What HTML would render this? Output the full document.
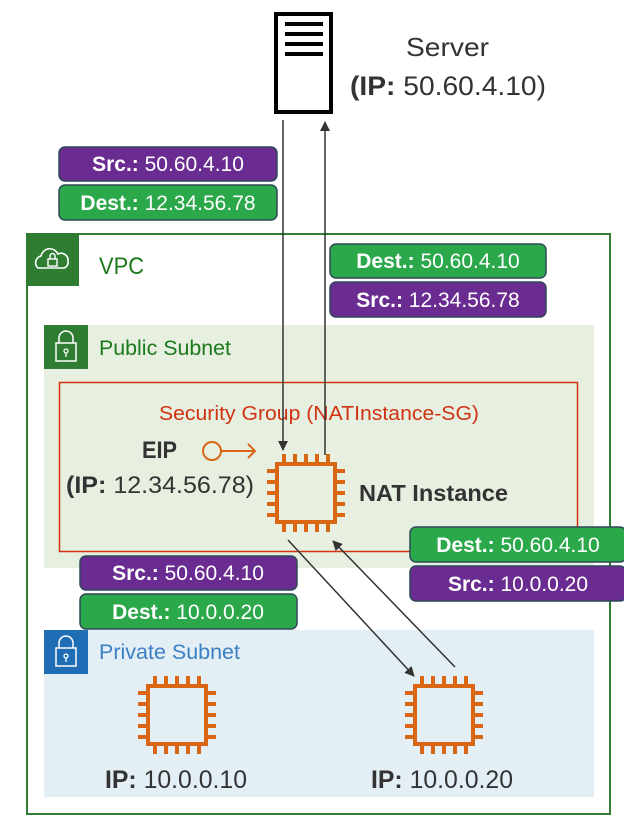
<!DOCTYPE html>
<html><head><meta charset="utf-8"><style>
html,body{margin:0;padding:0;background:#fff}
svg{display:block}
text{font-family:"Liberation Sans",sans-serif}
</style></head><body>
<svg width="624" height="820" viewBox="0 0 624 820" xmlns="http://www.w3.org/2000/svg">
<defs>
<marker id="ah" markerWidth="10" markerHeight="10" refX="9" refY="5" orient="auto" markerUnits="userSpaceOnUse">
<path d="M0,0 L10,5 L0,10 z" fill="#333"/></marker>
<symbol id="chip" viewBox="0 0 80 80" width="80" height="80">
<g stroke="#d86613" stroke-width="4" fill="none">
<rect x="11" y="11" width="58" height="58"/>
<path d="M18,1V11M29,1V11M40,1V11M51,1V11M62,1V11M18,69V79M29,69V79M40,69V79M51,69V79M62,69V79M1,18H11M1,29H11M1,40H11M1,51H11M1,62H11M69,18H79M69,29H79M69,40H79M69,51H79M69,62H79"/>
</g></symbol>
</defs>

<!-- server -->
<rect x="276" y="14" width="55" height="98" fill="#fff" stroke="#000" stroke-width="4"/>
<path d="M285,24H323M285,34H323M285,44H323M285,54H323" stroke="#000" stroke-width="4"/>
<text x="406" y="56" font-size="26" fill="#333" textLength="83" lengthAdjust="spacingAndGlyphs">Server</text>
<text x="350" y="95" font-size="27" fill="#333" textLength="196" lengthAdjust="spacingAndGlyphs"><tspan font-weight="bold">(IP:</tspan> 50.60.4.10)</text>

<!-- VPC -->
<rect x="27" y="234" width="583" height="580" fill="#fff" stroke="#2e7d32" stroke-width="2"/>
<rect x="26" y="233" width="53" height="53" fill="#2e7d32"/>
<path d="M38,268 a7,7 0 0 1 3,-12 a9,9 0 0 1 17,-2 a7,7 0 0 1 10,7 a6,6 0 0 1 -4,7 z" fill="none" stroke="#fff" stroke-width="1.6"/>
<rect x="48" y="259" width="9" height="7" fill="none" stroke="#fff" stroke-width="1.4"/>
<path d="M50,259v-3a2.5,2.5 0 0 1 5,0v3" fill="none" stroke="#fff" stroke-width="1.4"/>
<text x="99" y="274" font-size="24" fill="#1b7a1b" textLength="45" lengthAdjust="spacingAndGlyphs">VPC</text>

<!-- public subnet -->
<rect x="44" y="325" width="550" height="243" fill="#e7efe0"/>
<rect x="44" y="325" width="44" height="44" fill="#2e7d32"/>
<rect x="56" y="343" width="20" height="18" fill="none" stroke="#fff" stroke-width="1.5"/>
<path d="M59,343v-5a7,7 0 0 1 14,0v5" fill="none" stroke="#fff" stroke-width="1.5"/>
<circle cx="66" cy="351" r="2" fill="none" stroke="#fff" stroke-width="1.3"/><path d="M66,353v4" stroke="#fff" stroke-width="1.3"/>
<text x="99" y="355" font-size="21" fill="#1b7a1b" textLength="132" lengthAdjust="spacingAndGlyphs">Public Subnet</text>

<!-- security group -->
<rect x="59.5" y="382.5" width="518" height="169" fill="none" stroke="#d13212" stroke-width="1.5"/>
<text x="159" y="420" font-size="20" fill="#d13212" textLength="320" lengthAdjust="spacingAndGlyphs">Security Group (NATInstance-SG)</text>

<text x="142" y="458" font-size="24" fill="#333" font-weight="bold" textLength="35" lengthAdjust="spacingAndGlyphs">EIP</text>
<text x="66" y="493" font-size="24" fill="#333" textLength="188" lengthAdjust="spacingAndGlyphs"><tspan font-weight="bold">(IP:</tspan> 12.34.56.78)</text>
<circle cx="212" cy="451" r="9" fill="none" stroke="#d86613" stroke-width="2"/>
<path d="M221,451H255M248,444L255,451L248,458" fill="none" stroke="#d86613" stroke-width="2"/>
<use href="#chip" x="266" y="453"/>
<text x="359" y="501" font-size="23" fill="#333" font-weight="bold" textLength="149" lengthAdjust="spacingAndGlyphs">NAT Instance</text>

<!-- private subnet -->
<rect x="44" y="630" width="550" height="167" fill="#e3eef5"/>
<rect x="44" y="630" width="44" height="44" fill="#1f6db5"/>
<rect x="56" y="648" width="20" height="18" fill="none" stroke="#fff" stroke-width="1.5"/>
<path d="M59,648v-5a7,7 0 0 1 14,0v5" fill="none" stroke="#fff" stroke-width="1.5"/>
<circle cx="66" cy="656" r="2" fill="none" stroke="#fff" stroke-width="1.3"/><path d="M66,658v4" stroke="#fff" stroke-width="1.3"/>
<text x="99" y="659" font-size="21" fill="#3b80c4" textLength="141" lengthAdjust="spacingAndGlyphs">Private Subnet</text>
<use href="#chip" x="137" y="675"/>
<use href="#chip" x="404" y="675"/>
<text x="105" y="788" font-size="25" fill="#333" textLength="142" lengthAdjust="spacingAndGlyphs"><tspan font-weight="bold">IP:</tspan> 10.0.0.10</text>
<text x="371" y="788" font-size="25" fill="#333" textLength="142" lengthAdjust="spacingAndGlyphs"><tspan font-weight="bold">IP:</tspan> 10.0.0.20</text>

<!-- arrows -->
<line x1="283" y1="120" x2="283" y2="450" stroke="#333" stroke-width="1.5" marker-end="url(#ah)"/>
<line x1="325" y1="455" x2="325" y2="122" stroke="#333" stroke-width="1.5" marker-end="url(#ah)"/>
<line x1="288" y1="540" x2="414" y2="676" stroke="#333" stroke-width="1.5" marker-end="url(#ah)"/>
<line x1="455" y1="667" x2="333" y2="541" stroke="#333" stroke-width="1.5" marker-end="url(#ah)"/>

<!-- tags -->
<g font-size="21" fill="#fff" text-anchor="middle" stroke-width="1.5">
<rect x="59" y="147" width="218" height="34" rx="6" fill="#6a2c91" stroke="#2f4858"/>
<text x="168" y="171"><tspan font-weight="bold">Src.:</tspan> 50.60.4.10</text>
<rect x="59" y="185" width="218" height="35" rx="6" fill="#2ba84a" stroke="#2f4858"/>
<text x="168" y="210"><tspan font-weight="bold">Dest.:</tspan> 12.34.56.78</text>

<rect x="330" y="244" width="216" height="34" rx="6" fill="#2ba84a" stroke="#2f4858"/>
<text x="438" y="268"><tspan font-weight="bold">Dest.:</tspan> 50.60.4.10</text>
<rect x="330" y="282" width="216" height="35" rx="6" fill="#6a2c91" stroke="#2f4858"/>
<text x="438" y="307"><tspan font-weight="bold">Src.:</tspan> 12.34.56.78</text>

<rect x="410" y="527" width="216" height="35" rx="6" fill="#2ba84a" stroke="#2f4858"/>
<text x="518" y="552"><tspan font-weight="bold">Dest.:</tspan> 50.60.4.10</text>
<rect x="410" y="566" width="216" height="35" rx="6" fill="#6a2c91" stroke="#2f4858"/>
<text x="518" y="591"><tspan font-weight="bold">Src.:</tspan> 10.0.0.20</text>

<rect x="80" y="556" width="217" height="34" rx="6" fill="#6a2c91" stroke="#2f4858"/>
<text x="188" y="580"><tspan font-weight="bold">Src.:</tspan> 50.60.4.10</text>
<rect x="80" y="594" width="217" height="35" rx="6" fill="#2ba84a" stroke="#2f4858"/>
<text x="188" y="619"><tspan font-weight="bold">Dest.:</tspan> 10.0.0.20</text>
</g>
</svg>
</body></html>
